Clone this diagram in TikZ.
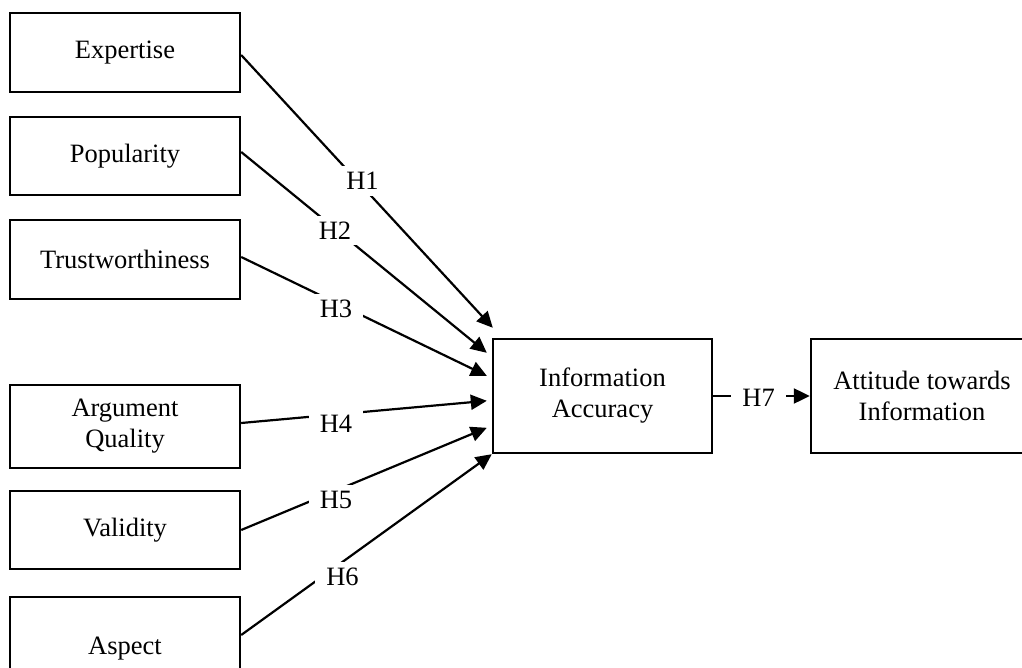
\documentclass[tikz,border=0pt]{standalone}
\usepackage{fontspec}
\setmainfont{Liberation Serif}
\usetikzlibrary{arrows.meta}
\begin{document}
\begin{tikzpicture}[x=1pt,y=-1pt,
  box/.style={draw,line width=2.4pt,rectangle,minimum width=230pt,align=center,inner sep=0pt,
    font=\fontsize{26.5}{31}\selectfont},
  arr/.style={line width=2.2pt,-{Triangle[length=16pt,width=15pt]}},
  hlab/.style={fill=white,inner xsep=11pt,inner ysep=6pt,font=\fontsize{26.5}{31}\selectfont}]
\path[use as bounding box,clip] (0,0) rectangle (1022,668);
% boxes
\node[box,minimum height=79pt] (exp) at (125,52.5) {Expertise};
\node[box,minimum height=78pt] (pop) at (125,156) {Popularity};
\node[box,minimum height=79pt] (tru) at (125,259.5) {Trustworthiness};
\node[box,minimum height=83pt] (arg) at (125,426.5) {Argument\\Quality};
\node[box,minimum height=78pt] (val) at (125,530) {Validity};
\node[box,minimum height=104pt] (asp) at (125,649) {Aspect};
\node[box,minimum width=219pt,minimum height=114pt] (ia) at (602.5,396) {Information\\Accuracy};
\node[box,minimum width=222pt,minimum height=114pt] (att) at (922,396) {Attitude towards\\Information};
% arrow end points
\coordinate (e1) at ([xshift=1pt,yshift=10pt]ia.north west);
\coordinate (e2) at ([xshift=-5pt,yshift=-15pt]ia.north west);
\coordinate (e3) at ([xshift=-5pt,yshift=-38pt]ia.north west);
\coordinate (e4) at ([xshift=-5pt,yshift=-63pt]ia.north west);
\coordinate (e5) at ([xshift=-5pt,yshift=-90pt]ia.north west);
\coordinate (e6) at (ia.south west);
% connectors
\draw[arr] ([yshift=-2.5pt]exp.east) -- (e1);
\draw[arr] ([yshift=4pt]pop.east) -- (e2);
\draw[arr] ([yshift=2.5pt]tru.east) -- (e3);
\draw[arr] ([yshift=3.5pt]arg.east) -- (e4);
\draw[arr] (val.east) -- (e5);
\draw[arr] ([yshift=14pt]asp.east) -- (e6);
\draw[arr] (ia.east) -- node[hlab,pos=0.47,yshift=-1.5pt] (h7) {H7} (att.west);
% labels
\node[hlab] (h1) at (362.5,181) {H1};
\node[hlab] (h2) at (335,230.5) {H2};
\node[hlab] (h3) at (336,309) {H3};
\node[hlab] (h4) at (336,423.5) {H4};
\node[hlab] (h5) at (336,500) {H5};
\node[hlab] (h6) at (342.5,576.5) {H6};
\end{tikzpicture}
\end{document}
